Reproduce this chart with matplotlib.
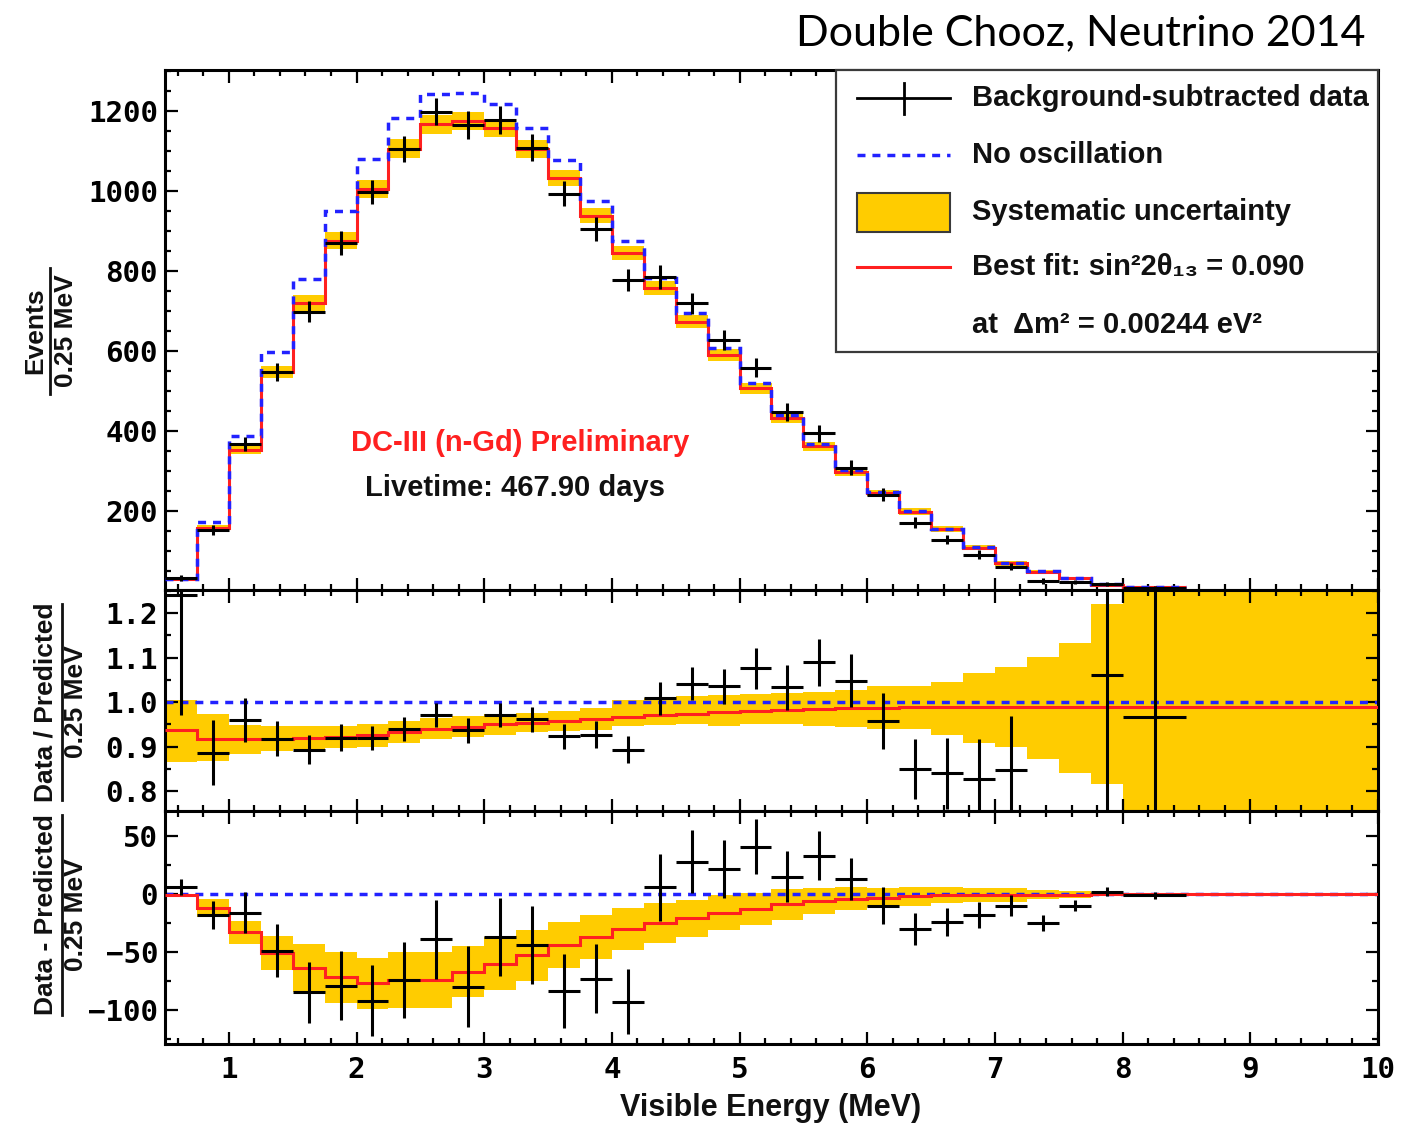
import numpy as np
import matplotlib
matplotlib.use("Agg")
import matplotlib.pyplot as plt
from matplotlib.ticker import MultipleLocator, FixedLocator, FormatStrFormatter
from matplotlib.patches import Rectangle
from matplotlib.lines import Line2D

# ---------------- data ----------------
bin_edges = [0.5, 0.75, 1.0, 1.25, 1.5, 1.75, 2.0, 2.25, 2.5, 2.75, 3.0, 3.25,
             3.5, 3.75, 4.0, 4.25, 4.5, 4.75, 5.0, 5.25, 5.5, 5.75, 6.0, 6.25,
             6.5, 6.75, 7.0, 7.25, 7.5, 7.75, 8.0, 8.5, 10.0]

no_osc_events = [30, 171, 387, 598, 781, 949, 1080, 1182, 1242, 1246, 1219, 1157,
                 1077, 975, 876, 782, 694, 608, 520, 441, 368, 302, 248, 200,
                 155, 109, 70, 49, 32, 16, 9]
best_fit_events = [29, 157, 352, 548, 719, 876, 1005, 1106, 1167, 1175, 1158, 1106,
                   1032, 938, 845, 757, 673, 591, 507, 432, 362, 298, 245, 198,
                   154, 108, 69, 48, 31, 15, 9]
data_events = [32, 152, 368, 548, 698, 870, 998, 1105, 1199, 1165, 1178, 1109,
               994, 905, 777, 785, 719, 628, 558, 447, 394, 308, 240, 170,
               128, 90, 60, 24, 21, 17, 8]
stat_err = [7, 12, 18, 23, 26, 30, 31, 33, 34, 35, 34, 34, 32, 30, 28, 29, 27,
            25, 24, 22, 21, 18, 16, 14, 12, 11, 9, 7, 5, 4, 3]
sys_err_events = [1, 8, 10, 15, 21, 22, 22, 24, 24, 22, 23, 22, 20, 19, 18, 17,
                  16, 15, 14, 13, 11, 10, 8, 8, 7, 6, 6, 4, 3, 2, 1, 1]

ratio_fit = [0.937, 0.916, 0.916, 0.918, 0.920, 0.922, 0.925, 0.933, 0.940, 0.945,
             0.950, 0.954, 0.958, 0.962, 0.966, 0.970, 0.974, 0.977, 0.980, 0.982,
             0.984, 0.986, 0.987, 0.988, 0.988, 0.988, 0.988, 0.988, 0.988, 0.988,
             0.988, 0.988]
ratio_band_low = [0.865, 0.867, 0.884, 0.890, 0.894, 0.897, 0.900, 0.908, 0.916, 0.922,
                  0.927, 0.932, 0.936, 0.938, 0.946, 0.948, 0.950, 0.946, 0.950, 0.950,
                  0.946, 0.944, 0.940, 0.940, 0.926, 0.907, 0.899, 0.873, 0.840, 0.816,
                  0.500, 0.500]
ratio_band_high = [1.005, 0.973, 0.948, 0.946, 0.946, 0.947, 0.950, 0.958, 0.964, 0.968,
                   0.973, 0.976, 0.980, 0.986, 1.004, 1.008, 1.014, 1.016, 1.018, 1.020,
                   1.023, 1.027, 1.035, 1.035, 1.044, 1.066, 1.078, 1.101, 1.133, 1.221,
                   1.500, 1.500]
ratio_data = [1.240, 0.886, 0.959, 0.918, 0.893, 0.920, 0.920, 0.940, 0.971, 0.937,
              0.971, 0.961, 0.923, 0.927, 0.893, 1.008, 1.041, 1.035, 1.076, 1.033,
              1.089, 1.048, 0.958, 0.850, 0.840, 0.828, 0.848, 0.500, 0.450, 1.061,
              0.966]
ratio_err = [0.270, 0.073, 0.049, 0.039, 0.032, 0.030, 0.027, 0.027, 0.026, 0.028,
             0.027, 0.028, 0.028, 0.030, 0.030, 0.036, 0.037, 0.040, 0.046, 0.050,
             0.053, 0.060, 0.063, 0.068, 0.080, 0.090, 0.120, 0.150, 0.200, 0.400,
             0.500]

diff_fit = [-1, -12, -33, -51, -64, -72, -77, -74, -74, -67, -60, -53, -44, -37,
            -30, -25, -21, -16, -13, -9, -6, -4, -3, -2, -1, -1, -1, -0.5, -0.5,
            0, 0, 0]
diff_data = [6, -18, -16, -49, -85, -79, -92, -74, -39, -80, -37, -44, -84, -73,
             -93, 6, 28, 22, 41, 15, 33, 13, -10, -30, -24, -18, -10, -25, -10, 2, -1]
diff_err = [7, 12, 18, 23, 26, 30, 31, 33, 34, 35, 34, 34, 32, 30, 28, 29, 27,
            25, 24, 22, 21, 18, 16, 14, 12, 11, 9, 7, 5, 4, 3]

x_ticks = [1, 2, 3, 4, 5, 6, 7, 8, 9, 10]
top_yticks = [200, 400, 600, 800, 1000, 1200]
ratio_yticks = [0.8, 0.9, 1.0, 1.1, 1.2]
diff_yticks = [-100, -50, 0, 50]

# ---------------- derived geometry ----------------
edges = np.array(bin_edges)
widths = np.diff(edges)
centers = 0.5 * (edges[:-1] + edges[1:])
nd = len(data_events)
e_top = edges[:nd + 1]

GOLD = '#FFCC00'
RED = '#FF2020'
BLUE = '#2222FF'
DASH = (0, (2.3, 2.0))

plt.rcParams['font.family'] = 'DejaVu Sans Mono'
plt.rcParams['font.weight'] = 'bold'
plt.rcParams['axes.unicode_minus'] = True

W, H = 1420, 1123
fig = plt.figure(figsize=(W / 100, H / 100), dpi=100)


def fy(y):
    return 1 - y / H


L, R = 165 / W, 1378 / W
ax1 = fig.add_axes([L, fy(590), R - L, fy(70) - fy(590)])
ax2 = fig.add_axes([L, fy(811), R - L, fy(590) - fy(811)])
ax3 = fig.add_axes([L, fy(1044), R - L, fy(811) - fy(1044)])

# --- top panel ---
bf = np.array(best_fit_events, float)
se = np.array(sys_err_events[:nd], float)
ax1.bar(edges[:nd], 2 * se, width=widths[:nd], bottom=bf - se, align='edge',
        color=GOLD, linewidth=0, zorder=1)
ax1.stairs(best_fit_events, e_top, baseline=None, color=RED, lw=2.2, zorder=2)
ax1.stairs(no_osc_events, e_top, baseline=None, color=BLUE, lw=2.5,
           linestyle=DASH, zorder=3)
ax1.errorbar(centers[:nd], data_events, xerr=widths[:nd] / 2, yerr=stat_err,
             fmt='none', ecolor='black', elinewidth=2.2, capsize=0, zorder=4)
ax1.set_ylim(2, 1303)

# --- ratio panel ---
rlo = np.array(ratio_band_low)
rhi = np.array(ratio_band_high)
ax2.bar(edges[:-1], rhi - rlo, width=widths, bottom=rlo, align='edge',
        color=GOLD, linewidth=0, zorder=1)
ax2.axhline(1.0, color=BLUE, lw=2.5, linestyle=DASH, zorder=2)
ax2.stairs(ratio_fit, edges, baseline=None, color=RED, lw=2.2, zorder=3)
ax2.errorbar(centers[:nd], ratio_data, xerr=widths[:nd] / 2, yerr=ratio_err,
             fmt='none', ecolor='black', elinewidth=2.2, capsize=0, zorder=4)
ax2.set_ylim(0.755, 1.252)

# --- difference panel ---
df = np.array(diff_fit, float)
db = np.array(sys_err_events, float)
ax3.bar(edges[:-1], 2 * db, width=widths, bottom=df - db, align='edge',
        color=GOLD, linewidth=0, zorder=1)
ax3.axhline(0.0, color=BLUE, lw=2.5, linestyle=DASH, zorder=2)
ax3.stairs(diff_fit, edges, baseline=None, color=RED, lw=2.2, zorder=3)
ax3.errorbar(centers[:nd], diff_data, xerr=widths[:nd] / 2, yerr=diff_err,
             fmt='none', ecolor='black', elinewidth=2.2, capsize=0, zorder=4)
ax3.set_ylim(-129.5, 71.7)

for ax in (ax1, ax2, ax3):
    ax.set_xlim(0.5, 10)
    ax.xaxis.set_major_locator(FixedLocator(x_ticks))
    ax.xaxis.set_minor_locator(MultipleLocator(0.2))
    ax.tick_params(which='both', direction='in', top=True, right=True,
                   width=1.6, colors='black', labelsize=21)
    ax.tick_params(which='major', length=9)
    ax.tick_params(which='minor', length=4.5)
    ax.tick_params(axis='y', pad=5)
    ax.tick_params(axis='x', pad=9)
    for s in ax.spines.values():
        s.set_linewidth(2.2)
    ax.set_facecolor('white')

ax1.yaxis.set_major_locator(FixedLocator(top_yticks))
ax1.yaxis.set_minor_locator(MultipleLocator(50))
ax2.yaxis.set_major_locator(FixedLocator(ratio_yticks))
ax2.yaxis.set_minor_locator(MultipleLocator(0.05))
ax2.yaxis.set_major_formatter(FormatStrFormatter('%.1f'))
ax3.yaxis.set_major_locator(FixedLocator(diff_yticks))
ax3.yaxis.set_minor_locator(MultipleLocator(25))
ax1.tick_params(axis='x', labelbottom=False)
ax2.tick_params(axis='x', labelbottom=False)

# --- legend (drawn by hand in axes coordinates) ---
T = ax1.transAxes
lx0, lx1 = (857 - 165) / 1213, (950 - 165) / 1213
tx = (972 - 165) / 1213


def ay(y):
    return (590 - y) / 520


ax1.add_patch(Rectangle((0.553, ay(352)), 1 - 0.553, 1 - ay(352), transform=T,
                        facecolor='white', edgecolor='#3a3a3a', lw=1.6, zorder=10,
                        clip_on=False))
ax1.add_line(Line2D([lx0, lx1], [ay(98), ay(98)], transform=T, color='black',
                    lw=2.0, zorder=11))
ax1.add_line(Line2D([(lx0 + lx1) / 2] * 2, [ay(83), ay(114)], transform=T,
                    color='black', lw=2.0, zorder=11))
ax1.add_line(Line2D([lx0, lx1], [ay(155), ay(155)], transform=T, color=BLUE,
                    lw=2.5, linestyle=DASH, zorder=11))
ax1.add_patch(Rectangle((lx0, ay(232)), lx1 - lx0, ay(193) - ay(232), transform=T,
                        facecolor=GOLD, edgecolor='#3a3a3a', lw=1.5, zorder=11))
ax1.add_line(Line2D([lx0, lx1], [ay(267), ay(267)], transform=T, color=RED,
                    lw=2.2, zorder=11))

lfont = dict(family=['Liberation Sans', 'DejaVu Sans'], fontweight='bold',
             fontsize=21, color='#111111', va='center', ha='left', zorder=12,
             transform=T)
ax1.text(tx, ay(98), 'Background-subtracted data', **lfont)
ax1.text(tx, ay(155), 'No oscillation', **lfont)
ax1.text(tx, ay(212), 'Systematic uncertainty', **lfont)
ax1.text(tx, ay(267), 'Best fit: sin²2θ₁₃ = 0.090', **lfont)
ax1.text(tx, ay(325), 'at  Δm² = 0.00244 eV²', **lfont)

# --- in-plot annotations ---
afont = dict(family=['Liberation Sans', 'DejaVu Sans'], fontweight='bold',
             fontsize=21, ha='center', va='center')
fig.text(520 / W, fy(443), 'DC-III (n-Gd) Preliminary', color='#FF2020', **afont)
fig.text(515 / W, fy(488), 'Livetime: 467.90 days', color='#111111', **afont)

# --- title ---
fig.text(1365 / W, fy(33), 'Double Chooz, Neutrino 2014', family='Lato',
         fontweight='normal', fontsize=31, ha='right', va='center', color='black')

# --- axis titles ---
fig.text(771 / W, fy(1108), 'Visible Energy (MeV)', family='Liberation Sans',
         fontweight='bold', fontsize=22, ha='center', va='center', color='#111111')

yfont = dict(family='Liberation Sans', fontweight='bold', fontsize=19,
             rotation=90, ha='center', va='center', color='#111111')


def frac_label(num, den, xn, xl, xd, yc, half):
    fig.text(xn / W, fy(yc), num, **yfont)
    fig.text(xd / W, fy(yc), den, **yfont)
    fig.add_artist(Line2D([xl / W, xl / W], [fy(yc - half), fy(yc + half)],
                          transform=fig.transFigure, color='#111111', lw=2.0))


frac_label('Events', '0.25 MeV', 35, 50, 66, 331, 63)
frac_label('Data / Predicted', '0.25 MeV', 46, 62, 76, 702, 98)
frac_label('Data - Predicted', '0.25 MeV', 46, 62, 76, 915, 100)

fig.savefig('out.png', dpi=100, facecolor='white')
